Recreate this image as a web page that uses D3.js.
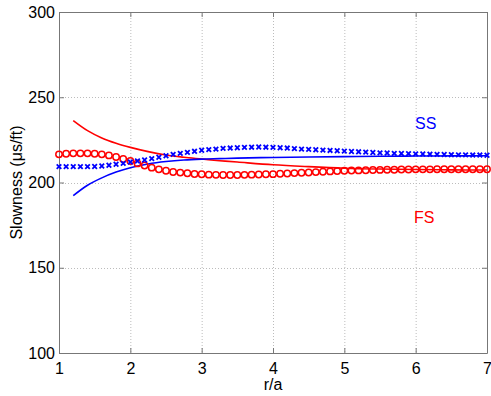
<!DOCTYPE html>
<meta charset="utf-8">
<style>
* { margin: 0; padding: 0; }
body { background: #fff; }
text { font-family: "Liberation Sans", Arial, sans-serif; }
.grid line { stroke: #bcbcbc; stroke-width: 1; stroke-dasharray: 1,2; }
</style>
<body>
<script src="https://cdn.jsdelivr.net/npm/d3@7"></script>
<script>

// marker series, sampled at r/a = 1.0 .. 7.0 step 0.1
var markerX = d3.range(61).map(function(i) { return 1 + i / 10; });

var fsMarkers = [216.5, 216.9, 217.1, 217.1, 217.1, 216.9, 216.5, 215.9, 215.0, 213.8,
                 212.6, 211.2, 210.0, 208.7, 207.7, 206.9, 206.2, 205.8, 205.4, 205.0,
                 204.8, 204.6, 204.5, 204.4, 204.4, 204.4, 204.5, 204.6, 204.7, 204.8,
                 204.9, 205.1, 205.3, 205.5, 205.7, 205.9, 206.1, 206.3, 206.5, 206.7,
                 206.9, 207.0, 207.1, 207.2, 207.3, 207.4, 207.5, 207.5, 207.6, 207.6,
                 207.7, 207.7, 207.7, 207.8, 207.8, 207.8, 207.8, 207.8, 207.8, 207.8, 207.8];

var ssMarkers = [209.3, 209.3, 209.3, 209.3, 209.3, 209.4, 209.7, 210.1, 210.7, 211.2,
                 212.0, 212.6, 213.2, 214.0, 214.8, 215.7, 216.5, 217.1, 217.7, 218.3,
                 218.9, 219.3, 219.6, 220.0, 220.2, 220.4, 220.6, 220.7, 220.8, 220.7,
                 220.6, 220.4, 220.2, 219.9, 219.6, 219.4, 219.2, 219.0, 218.8, 218.6,
                 218.4, 218.2, 218.0, 217.8, 217.6, 217.4, 217.3, 217.1, 217.0, 216.9,
                 216.8, 216.7, 216.6, 216.5, 216.4, 216.3, 216.2, 216.2, 216.1, 216.1, 216.0];

// solid curves
var lineX  = [1.2, 1.4, 1.6, 1.8, 2.0, 2.25, 2.5, 2.75, 3.0, 3.25, 3.5, 4.0, 4.5, 5.0, 5.5, 6.0, 6.5, 7.0];
var fsLine = [236.3, 230.4, 226.1, 223.0, 220.6, 218.1, 216.1, 214.8, 213.8, 212.8, 212.0, 210.4, 209.3, 208.4, 207.9, 207.6, 207.4, 207.3];
var ssLine = [192.3, 198.4, 202.7, 206.1, 208.7, 210.9, 212.3, 213.2, 213.7, 214.0, 214.3, 214.7, 215.0, 215.2, 215.4, 215.5, 215.6, 215.7];

var xTicks = [1, 2, 3, 4, 5, 6, 7];
var yTicks = [100, 150, 200, 250, 300];

var width = 491, height = 396;
var margin = { left: 59, right: 4, top: 12, bottom: 43 };

var svg = d3.select("body").append("svg")
    .attr("width", width)
    .attr("height", height);

var x = d3.scaleLinear().domain([1, 7]).range([margin.left, width - margin.right]);
var y = d3.scaleLinear().domain([100, 300]).range([height - margin.bottom, margin.top]);

// grid
var grid = svg.append("g").attr("class", "grid");
grid.selectAll(".gx").data(xTicks.slice(1, -1)).enter().append("line")
    .attr("x1", function(d) { return x(d) + 0.5; })
    .attr("x2", function(d) { return x(d) + 0.5; })
    .attr("y1", y(300)).attr("y2", y(100));
grid.selectAll(".gy").data(yTicks.slice(1, -1)).enter().append("line")
    .attr("y1", function(d) { return Math.round(y(d)) + 0.5; })
    .attr("y2", function(d) { return Math.round(y(d)) + 0.5; })
    .attr("x1", x(1)).attr("x2", x(7));

// axes, matlab style with inward ticks and a box
function styleAxis(g) {
    g.select(".domain").attr("stroke", "#777");
    g.selectAll(".tick line").attr("stroke", "#777");
    g.selectAll(".tick text").attr("fill", "#000").style("font-size", "16px")
        .style("font-family", "'Liberation Sans', Arial, sans-serif");
}

svg.append("g")
    .attr("transform", "translate(0," + y(100) + ")")
    .call(d3.axisBottom(x).tickValues(xTicks).tickSizeInner(-5).tickSizeOuter(0).tickPadding(10).tickFormat(d3.format("d")))
    .call(styleAxis);

svg.append("g")
    .attr("transform", "translate(" + x(1) + ",0)")
    .call(d3.axisLeft(y).tickValues(yTicks).tickSizeInner(-5).tickSizeOuter(0).tickPadding(4).tickFormat(d3.format("d")))
    .call(styleAxis);

svg.append("g")
    .attr("transform", "translate(0," + y(300) + ")")
    .call(d3.axisTop(x).tickValues(xTicks).tickSizeInner(-5).tickSizeOuter(0).tickFormat(""))
    .call(styleAxis);

svg.append("g")
    .attr("transform", "translate(" + x(7) + ",0)")
    .call(d3.axisRight(y).tickValues(yTicks).tickSizeInner(-5).tickSizeOuter(0).tickFormat(""))
    .call(styleAxis);

// curves
var line = d3.line()
    .x(function(d) { return x(d[0]); })
    .y(function(d) { return y(d[1]); })
    .curve(d3.curveCatmullRom.alpha(0.5));

svg.append("path")
    .datum(d3.zip(lineX, fsLine))
    .attr("fill", "none").attr("stroke", "#ff0000").attr("stroke-width", 1.6)
    .attr("d", line);

svg.append("path")
    .datum(d3.zip(lineX, ssLine))
    .attr("fill", "none").attr("stroke", "#0000ff").attr("stroke-width", 1.6)
    .attr("d", line);

// red circles
svg.append("g").selectAll("circle")
    .data(d3.zip(markerX, fsMarkers))
    .enter().append("circle")
    .attr("cx", function(d) { return x(d[0]); })
    .attr("cy", function(d) { return y(d[1]); })
    .attr("r", 3.2)
    .attr("fill", "none").attr("stroke", "#ff0000").attr("stroke-width", 1.5);

// blue crosses
var s = 2.3;
svg.append("g").selectAll("path")
    .data(d3.zip(markerX, ssMarkers))
    .enter().append("path")
    .attr("d", function(d) {
        var cx = x(d[0]), cy = y(d[1]);
        return "M" + (cx - s) + "," + (cy - s) + "L" + (cx + s) + "," + (cy + s) +
               "M" + (cx - s) + "," + (cy + s) + "L" + (cx + s) + "," + (cy - s);
    })
    .attr("stroke", "#0000ff").attr("stroke-width", 1.8).attr("fill", "none");

// labels
svg.append("text").attr("x", 415).attr("y", 129)
    .attr("fill", "#0000ff").style("font-size", "16px").text("SS");
svg.append("text").attr("x", 414).attr("y", 223)
    .attr("fill", "#ff0000").style("font-size", "16px").text("FS");

svg.append("text")
    .attr("x", x(4)).attr("y", 390)
    .attr("text-anchor", "middle").style("font-size", "16px")
    .text("r/a");

svg.append("text")
    .attr("transform", "translate(22," + y(200) + ") rotate(-90)")
    .attr("text-anchor", "middle").style("font-size", "16px")
    .text("Slowness (\u03bcs/ft)");

</script>
</body>
